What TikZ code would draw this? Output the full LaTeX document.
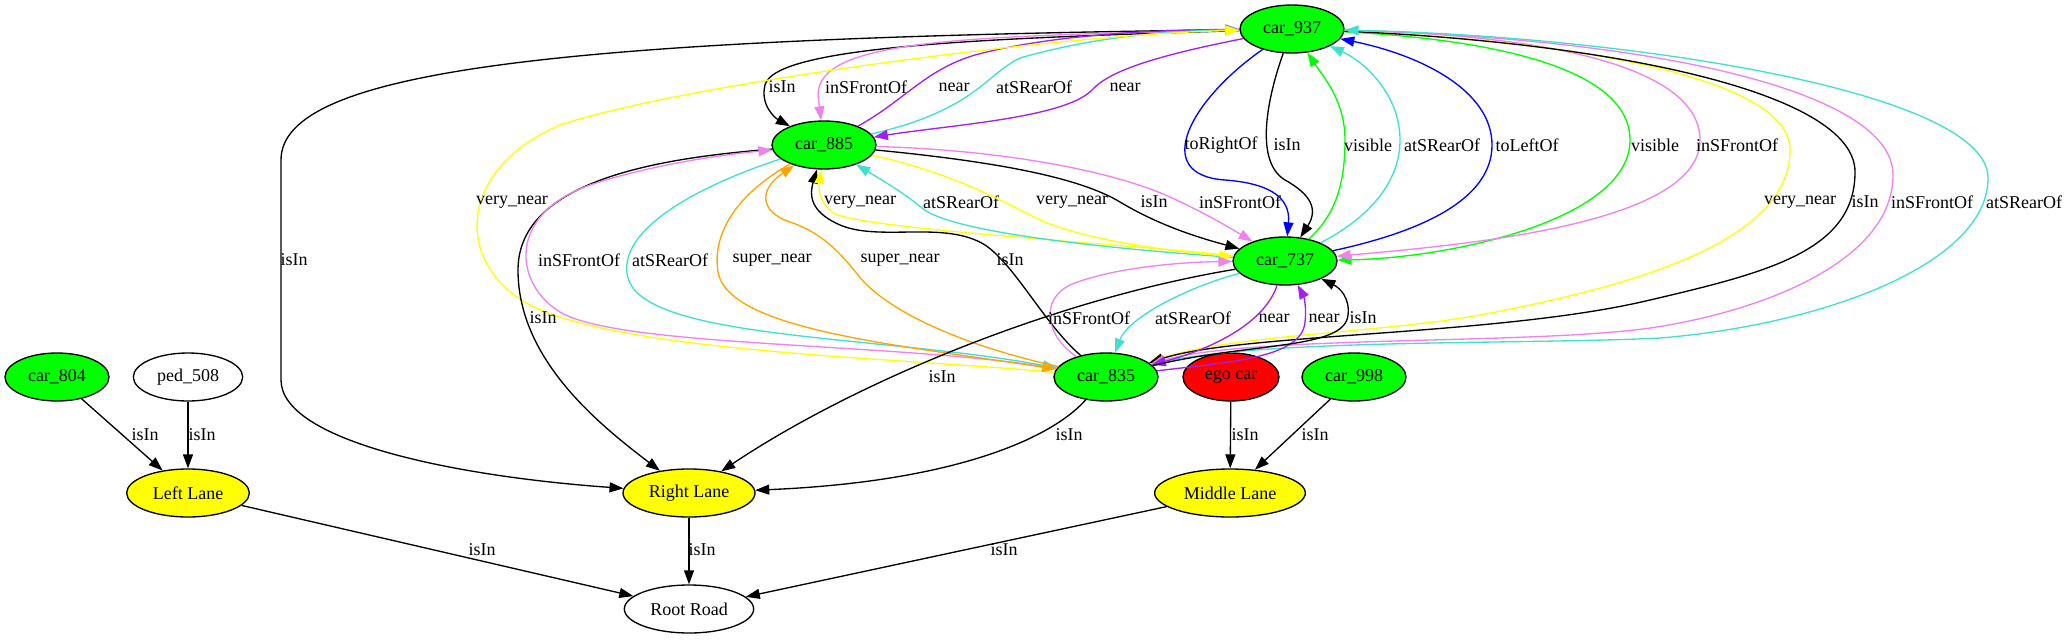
\documentclass[tikz,border=0pt]{standalone}
\usepackage{fontspec}
\setmainfont{Liberation Serif}
\usetikzlibrary{arrows.meta,shapes.geometric}
\definecolor{gGreen}{RGB}{0,255,0}
\definecolor{gRed}{RGB}{255,0,0}
\definecolor{gYellow}{RGB}{255,255,0}
\definecolor{gViolet}{RGB}{238,130,238}
\definecolor{gPurple}{RGB}{160,32,240}
\definecolor{gTurq}{RGB}{64,224,208}
\definecolor{gOrange}{RGB}{255,165,0}
\definecolor{gBlue}{RGB}{0,0,255}
\newcommand{\gvfont}{\fontsize{13.5}{16}\selectfont}
\tikzset{
  obj/.style={ellipse, draw=black, line width=1pt, minimum height=36pt,
              inner sep=0pt, font=\gvfont},
  car/.style={obj, fill=gGreen, minimum width=78pt},
  egocar/.style={obj, fill=gRed, minimum width=72pt},
  lane/.style={obj, fill=gYellow},
  plain/.style={obj, fill=white},
  rel/.style={-{Triangle[length=10.5pt,width=7.5pt]}, line width=1pt, draw=#1},
  rel/.default=black,
  lbl/.style={font=\gvfont, inner sep=0pt},
}

\begin{document}
\begin{tikzpicture}[x=0.75pt, y=-0.75pt]
  \useasboundingbox (0,0) rectangle (2069,639);

  \node[car] (c937) at (1292,29) {car\_937};
  \node[car] (c885) at (824,145) {car\_885};
  \node[car] (c737) at (1285,261) {car\_737};
  \node[car] (c835) at (1106,377) {car\_835};
  \node[egocar] (ego) at (1231,377) {ego car};
  \node[car] (c998) at (1354,377) {car\_998};
  \node[car] (c804) at (57,377) {car\_804};
  \node[plain, minimum width=82pt] (p508) at (188,377) {ped\_508};
  \node[lane, minimum width=92pt] (left) at (188,493) {Left Lane};
  \node[lane, minimum width=99pt] (right) at (689,493) {Right Lane};
  \node[lane, minimum width=113pt] (middle) at (1230,493) {Middle Lane};
  \node[plain, minimum width=97pt] (road) at (689,609) {Root Road};

  % car_937 and car_885
  \draw[rel] (c937) .. controls (560,38) and (281,70) .. (281,160) -- (281,380)
    .. controls (281,440) and (450,476) .. (right) node[lbl] (lb01) at (294,260) {isIn};
  \draw[rel] (c937) .. controls (1000,38) and (775,45) .. (765,85)
    .. controls (760,105) and (775,118) .. (c885) node[lbl] (lb02) at (782,87) {isIn};
  \draw[rel=gViolet] (c937) .. controls (960,36) and (818,40) .. (818,95) -- (c885)
    node[lbl] (lb03) at (866,87) {inSFrontOf};
  \draw[rel=gPurple] (c885) .. controls (905,100) and (925,70) .. (975,55)
    .. controls (1050,35) and (1150,30) .. (c937) node[lbl] (lb04) at (954,87) {near};
  \draw[rel=gTurq] (c885) .. controls (975,110) and (985,75) .. (1020,58)
    .. controls (1090,38) and (1160,31) .. (c937) node[lbl] (lb05) at (1034,87) {atSRearOf};
  \draw[rel=gPurple] (c937) .. controls (1160,55) and (1110,70) .. (1092,90)
    .. controls (1065,118) and (950,125) .. (c885) node[lbl] (lb06) at (1125,87) {near};

  % car_937 and car_737
  \draw[rel=gBlue] (c937) .. controls (1190,100) and (1150,175) .. (1225,180)
    .. controls (1265,183) and (1291,195) .. (c737) node[lbl] (lb07) at (1221,145) {toRightOf};
  \draw[rel] (c937) .. controls (1270,90) and (1252,160) .. (1285,180)
    .. controls (1312,195) and (1318,210) .. (c737) node[lbl] (lb08) at (1287,145) {isIn};
  \draw[rel=gGreen] (c737) .. controls (1335,215) and (1345,185) .. (1345,140)
    .. controls (1345,100) and (1322,75) .. (c937) node[lbl] (lb09) at (1368,145) {visible};
  \draw[rel=gTurq] (c737) .. controls (1365,220) and (1400,185) .. (1400,140)
    .. controls (1400,95) and (1365,62) .. (c937) node[lbl] (lb10) at (1442,145) {atSRearOf};
  \draw[rel=gBlue] (c737) .. controls (1420,232) and (1492,200) .. (1492,145)
    .. controls (1492,90) and (1420,55) .. (c937) node[lbl] (lb11) at (1527,145) {toLeftOf};
  \draw[rel=gGreen] (c937) .. controls (1500,40) and (1630,70) .. (1630,140)
    .. controls (1630,220) and (1450,258) .. (c737) node[lbl] (lb12) at (1655,145) {visible};
  \draw[rel=gViolet] (c937) .. controls (1560,35) and (1700,70) .. (1700,140)
    .. controls (1700,225) and (1460,245) .. (c737) node[lbl] (lb13) at (1737,145) {inSFrontOf};

  % car_937 and car_835, long way round
  \draw[rel=gYellow] (c937) .. controls (1560,40) and (1790,75) .. (1790,150)
    .. controls (1790,240) and (1640,285) .. (1480,315)
    .. controls (1380,333) and (1230,335) .. (c835) node[lbl] (lb14) at (1800,202) {very\_near};
  \draw[rel] (c937) .. controls (1600,42) and (1855,90) .. (1855,172)
    .. controls (1855,250) and (1770,272) .. (1650,300)
    .. controls (1500,336) and (1240,333) .. (c835) node[lbl] (lb15) at (1865,202) {isIn};
  \draw[rel=gViolet] (c937) .. controls (1650,38) and (1893,90) .. (1893,175)
    .. controls (1893,262) and (1760,312) .. (1650,328)
    .. controls (1530,345) and (1250,335) .. (c835) node[lbl] (lb16) at (1932,202) {inSFrontOf};
  \draw[rel=gTurq] (c835) .. controls (1250,338) and (1520,345) .. (1660,338)
    .. controls (1820,325) and (1988,265) .. (1988,178)
    .. controls (1988,90) and (1620,36) .. (c937) node[lbl] (lb17) at (2024,202) {atSRearOf};
  \draw[rel=gYellow] (c835) .. controls (900,358) and (620,352) .. (530,305)
    .. controls (455,265) and (455,170) .. (560,125)
    .. controls (680,85) and (1050,35) .. (c937) node[lbl] (lb18) at (512,202) {very\_near};

  % car_885 and car_835
  \draw[rel] (c885) .. controls (660,158) and (518,180) .. (518,270)
    .. controls (518,360) and (600,425) .. (right) node[lbl] (lb19) at (543,318) {isIn};
  \draw[rel=gViolet] (c835) .. controls (900,342) and (620,348) .. (560,312)
    .. controls (515,285) and (505,215) .. (590,185)
    .. controls (650,165) and (720,155) .. (c885) node[lbl] (lb20) at (579,260) {inSFrontOf};
  \draw[rel=gTurq] (c885) .. controls (700,185) and (615,230) .. (628,278)
    .. controls (645,340) and (880,335) .. (c835) node[lbl] (lb21) at (670,260) {atSRearOf};
  \draw[rel=gOrange] (c885) .. controls (735,195) and (712,235) .. (718,272)
    .. controls (728,330) and (900,345) .. (c835) node[lbl] (lb22) at (772,260) {super\_near};
  \draw[rel=gOrange] (c835) .. controls (960,345) and (885,310) .. (858,275)
    .. controls (838,250) and (820,232) .. (790,222)
    .. controls (760,212) and (758,190) .. (c885) node[lbl] (lb23) at (900,260) {super\_near};
  \draw[rel] (c835) .. controls (1045,325) and (1015,265) .. (985,245)
    .. controls (945,220) and (880,242) .. (840,225)
    .. controls (815,214) and (808,200) .. (c885) node[lbl] (lb24) at (1010,260) {isIn};

  % car_885 and car_737
  \draw[rel=gYellow] (c737) .. controls (1100,242) and (850,228) .. (832,212)
    .. controls (822,203) and (818,195) .. (c885) node[lbl] (lb25) at (860,202) {very\_near};
  \draw[rel=gTurq] (c737) .. controls (1100,248) and (950,232) .. (922,208)
    .. controls (905,194) and (890,185) .. (c885) node[lbl] (lb26) at (961,202) {atSRearOf};
  \draw[rel=gYellow] (c885) .. controls (950,172) and (1000,200) .. (1040,220)
    .. controls (1090,242) and (1180,252) .. (c737) node[lbl] (lb27) at (1072,202) {very\_near};
  \draw[rel] (c885) .. controls (1000,162) and (1080,178) .. (1120,202)
    .. controls (1160,226) and (1200,238) .. (c737) node[lbl] (lb28) at (1154,202) {isIn};
  \draw[rel=gViolet] (c885) .. controls (1000,150) and (1110,170) .. (1170,197)
    .. controls (1205,213) and (1230,228) .. (c737) node[lbl] (lb29) at (1240,202) {inSFrontOf};

  % car_737 and car_835
  \draw[rel] (c737) .. controls (1050,300) and (850,385) .. (right)
    node[lbl] (lb30) at (942,377) {isIn};
  \draw[rel=gViolet] (c835) .. controls (1045,335) and (1040,300) .. (1070,285)
    .. controls (1110,268) and (1180,262) .. (c737) node[lbl] (lb31) at (1089,318) {inSFrontOf};
  \draw[rel=gTurq] (c737) .. controls (1185,288) and (1128,318) .. (c835)
    node[lbl] (lb32) at (1193,318) {atSRearOf};
  \draw[rel=gPurple] (c737) .. controls (1265,322) and (1215,348) .. (c835)
    node[lbl] (lb33) at (1274,318) {near};
  \draw[rel=gPurple] (c835) .. controls (1230,362) and (1302,358) .. (1305,322)
    .. controls (1307,305) and (1303,295) .. (c737) node[lbl] (lb34) at (1324,318) {near};
  \draw[rel] (c835) .. controls (1250,342) and (1345,350) .. (1348,315)
    .. controls (1350,298) and (1340,288) .. (c737) node[lbl] (lb35) at (1363,318) {isIn};
  \draw[rel] (c835) .. controls (1050,440) and (950,482) .. (right)
    node[lbl] (lb36) at (1069,435) {isIn};

  % lanes and road
  \draw[rel] (c804) -- (left) node[lbl] (lb37) at (145,435) {isIn};
  \draw[rel] (p508) -- (left) node[lbl] (lb38) at (202,435) {isIn};
  \draw[rel] (ego) -- (middle) node[lbl] (lb39) at (1245,435) {isIn};
  \draw[rel] (c998) -- (middle) node[lbl] (lb40) at (1315,435) {isIn};
  \draw[rel] (left) -- (road) node[lbl] (lb41) at (482,550) {isIn};
  \draw[rel] (right) -- (road) node[lbl] (lb42) at (702,550) {isIn};
  \draw[rel] (middle) -- (road) node[lbl] (lb43) at (1004,550) {isIn};
\end{tikzpicture}
\end{document}
